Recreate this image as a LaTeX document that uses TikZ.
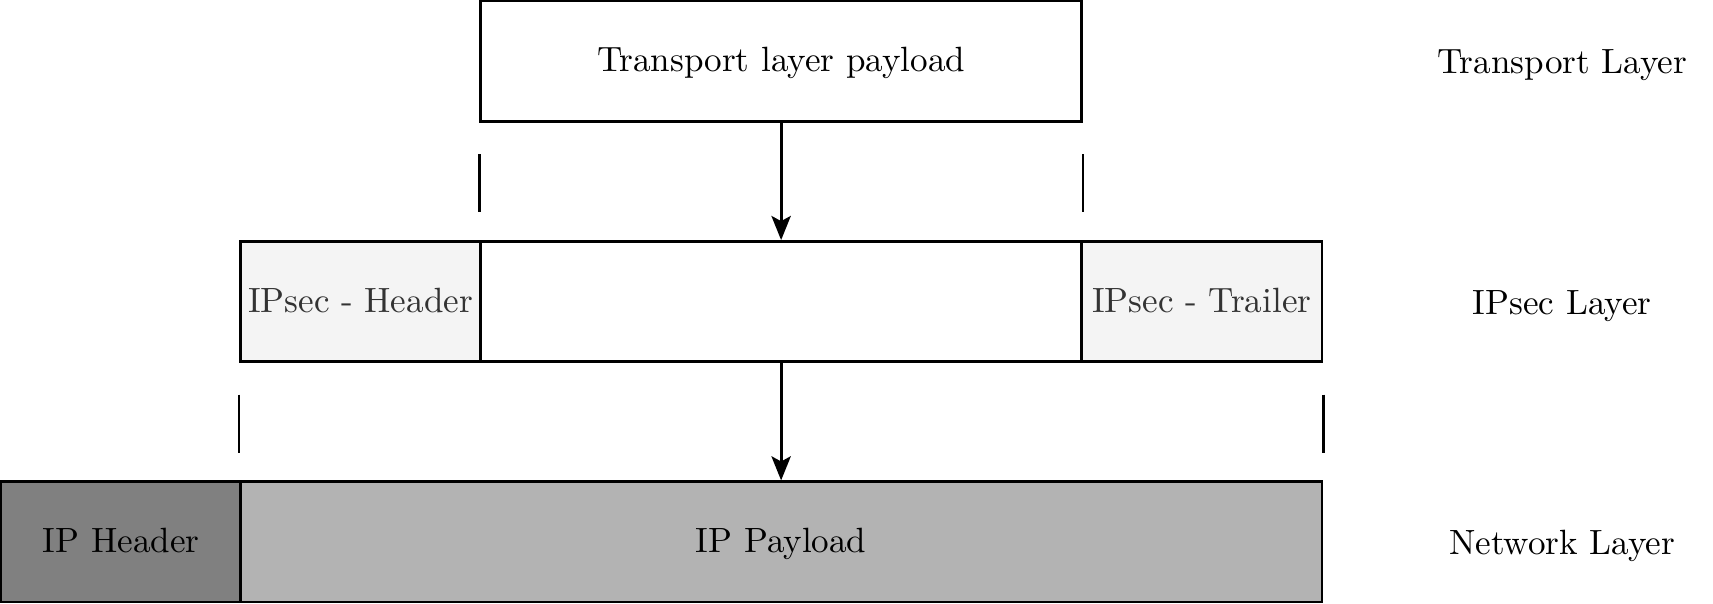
\documentclass[tikz,border=0pt]{standalone}
\usetikzlibrary{arrows.meta,calc}
\definecolor{lightfill}{HTML}{F4F4F4}
\definecolor{midgray}{HTML}{808080}
\definecolor{paygray}{HTML}{B3B3B3}
\definecolor{softtext}{HTML}{333333}
\begin{document}
\begin{tikzpicture}[x=0.3175pt,y=-0.3175pt,
  box/.style={draw=black,line width=0.8pt,rectangle,inner sep=0pt,minimum height=110*0.3175pt,font=\fontsize{10.2}{12}\selectfont,text depth=0.8pt},
  lbl/.style={font=\fontsize{10.2}{12}\selectfont,inner sep=0pt,text depth=0.8pt},
  arr/.style={line width=0.8pt,-{Stealth[length=7pt,width=5.6pt,inset=1.5pt]}},
  tick/.style={line width=0.8pt}]
\useasboundingbox (0,0) rectangle (1568,552);
% top
\node[box,fill=white,minimum width=550*0.3175pt] (tp) at (715,56) {Transport layer payload};
% middle
\node[box,fill=lightfill,text=softtext,minimum width=220*0.3175pt] (ih) at (330,276) {IPsec - Header};
\node[box,fill=white,minimum width=550*0.3175pt] (mc) at (715,276) {};
\node[box,fill=lightfill,text=softtext,minimum width=220*0.3175pt] (it) at (1100,276) {IPsec - Trailer};
% bottom
\node[box,fill=midgray,minimum width=220*0.3175pt] (iph) at (111,496) {IP Header};
\node[box,fill=paygray,minimum width=990*0.3175pt] (ipp) at (715,496) {IP Payload};
% labels
\node[lbl] (l1) at (1430,58) {Transport Layer};
\node[lbl] (l2) at (1430,278) {IPsec Layer};
\node[lbl] (l3) at (1430,498) {Network Layer};
% arrows
\draw[arr] (tp.south) -- (mc.north);
\draw[arr] (mc.south) -- (ipp.north);
% ticks
\coordinate (t1) at ($(tp.south west)+(0,29)$);
\coordinate (t2) at ($(tp.south east)+(0,29)$);
\coordinate (t3) at ($(ih.south west)+(0,29)$);
\coordinate (t4) at ($(it.south east)+(0,29)$);
\draw[tick] (t1) -- ++(0,53);
\draw[tick] (t2) -- ++(0,53);
\draw[tick] (t3) -- ++(0,53);
\draw[tick] (t4) -- ++(0,53);
\end{tikzpicture}
\end{document}
